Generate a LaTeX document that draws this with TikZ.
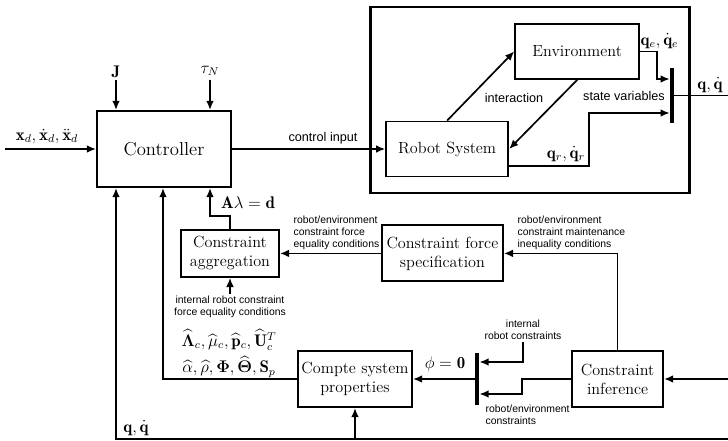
\documentclass[tikz,border=0pt]{standalone}
\usepackage{amsmath,amssymb}
\usepackage{fontspec}
\newfontfamily\labelsf{Liberation Sans}
\usetikzlibrary{arrows.meta}

\begin{document}
\begin{tikzpicture}[
    block/.style={rectangle, draw=black, line width=1.4pt, inner sep=2pt, align=center, font=\fontsize{11.5}{13.5}\selectfont},
    bar/.style={rectangle, fill=black, inner sep=0pt, minimum width=0.1cm},
    note/.style={font=\labelsf\fontsize{7.4}{8.6}\selectfont, align=left, inner sep=1pt},
    tag/.style={font=\labelsf\fontsize{9}{10}\selectfont, inner sep=1pt},
    sig/.style={font=\large, inner sep=1pt},
    arrow/.style={->, line width=1.2pt, >={Latex[length=6.5pt, width=5.5pt]}},
    wire/.style={line width=1.2pt}
]
\useasboundingbox (0,0) rectangle (18.2,11.025);

% Frame round the plant
\node[draw=black, line width=2pt, minimum width=7.975cm, minimum height=4.65cm] (plant) at (13.24,8.525) {};

% Blocks
\node[block, font=\fontsize{13.3}{15}\selectfont, minimum width=3.35cm, minimum height=1.9cm] (ctrl) at (4.1,7.3) {Controller};
\node[block, minimum width=3.1cm, minimum height=1.375cm] (env) at (14.43,9.74) {Environment};
\node[block, minimum width=3.05cm, minimum height=1.375cm] (robot) at (11.18,7.3) {Robot System};
\node[block, minimum width=2.45cm, minimum height=1.175cm] (aggr) at (5.75,4.69) {Constraint\\aggregation};
\node[block, minimum width=3.025cm, minimum height=1.4cm] (spec) at (11.06,4.69) {Constraint force\\specification};
\node[block, minimum width=2.275cm, minimum height=1.4cm] (infer) at (15.44,1.55) {Constraint\\inference};
\node[block, minimum width=2.85cm, minimum height=1.4cm] (comp) at (8.875,1.55) {Compte system\\properties};

% Bars
\node[bar, minimum height=1.375cm] (sv) at (16.8,8.64) {};
\node[bar, minimum height=1.3cm] (cbar) at (11.93,1.55) {};

% Free ends
\coordinate (xin) at (0.125,7.3);
\coordinate (qout) at (18.2,8.64);
\coordinate (fbin) at (18.2,1.55);
\coordinate (fb) at (18.2,0.05);

% Controller inputs
\node[sig] (J) at (2.9,9.225) {$\mathbf{J}$};
\node[sig] (tau) at (5.25,9.25) {$\tau_N$};
\draw[arrow] (J.south) -- (J |- ctrl.north);
\draw[arrow] (tau |- J.south) -- (tau |- ctrl.north);
\node[sig] (xd) at (1.175,7.62) {$\mathbf{x}_d, \dot{\mathbf{x}}_d, \ddot{\mathbf{x}}_d$};
\draw[arrow] (xin) -- (ctrl.west);
\draw[arrow] (ctrl.east) -- (robot.west);
\node[tag] (ci) at (8.075,7.575) {control input};

% Plant
\draw[arrow] (robot.north) -- (env.west);
\draw[arrow] (env.south) -- (robot.east);
\node[tag] (inter) at (12.85,8.575) {interaction};
\node[tag] (state) at (15.6,8.625) {state variables};
\draw[arrow] (env.east) -| ([xshift=-0.325cm, yshift=0.41cm]sv.west) -- ([yshift=0.41cm]sv.west);
\draw[arrow] ([yshift=-0.425cm]robot.east) -| ([xshift=-2.025cm, yshift=-0.44cm]sv.west) -- ([yshift=-0.44cm]sv.west);
\node[sig] (qe) at (16.49,10.0) {$\mathbf{q}_e, \dot{\mathbf{q}}_e$};
\node[sig] (qr) at (14.15,7.175) {$\mathbf{q}_r, \dot{\mathbf{q}}_r$};
\node[sig] (q) at (17.75,8.9) {$\mathbf{q}, \dot{\mathbf{q}}$};
\draw[wire] (sv.east) -- (qout);

% Constraint chain
\draw[arrow] (aggr.north) -- ++(0,0.32) -| ([xshift=1.15cm]ctrl.south);
\node[sig] (Ald) at (6.2,5.95) {$\mathbf{A}\lambda = \mathbf{d}$};
\node[note, align=center] (irc) at (5.75,3.35) {internal robot constraint\\force equality conditions};
\draw[arrow] (irc.north) -- (aggr.south);
\draw[arrow] (spec.west) -- (aggr.east);
\node[note, anchor=west] (rfe) at (7.3,5.2) {robot/environment\\constraint force\\equality conditions};
\draw[arrow] (infer.north) |- (spec.east);
\node[note, anchor=west] (rce) at (12.9,5.2) {robot/environment\\constraint maintenance\\inequality conditions};
\draw[arrow] (fbin) -- (infer.east);

% Constraints into system properties
\draw[arrow] (cbar.west) -- (comp.east);
\node[sig] (phi) at (11.125,1.925) {$\phi = \mathbf{0}$};
\node[note, align=center] (irob) at (13.075,2.775) {internal\\robot constraints};
\draw[arrow] (irob.south) |- ([yshift=0.425cm]cbar.east);
\draw[arrow] (infer.west) -- ++(-1.225,0) |- ([yshift=-0.375cm]cbar.east);
\node[note, anchor=west] (rec) at (12.1,0.65) {robot/environment\\constraints};

% System properties to controller
\draw[arrow] (comp.west) -| ([xshift=-0.025cm]ctrl.south);
\node[sig] (prop1) at (5.725,2.525) {$\widehat{\boldsymbol{\Lambda}}_c, \widehat{\mu}_c, \widehat{\mathbf{p}}_c, \widehat{\mathbf{U}}_c^T$};
\node[sig] (prop2) at (5.725,1.85) {$\widehat{\alpha}, \widehat{\rho}, \boldsymbol{\Phi}, \widehat{\boldsymbol{\Theta}}, \mathbf{S}_p$};

% Feedback
\draw[arrow] (fb) -| ([xshift=-1.2cm]ctrl.south);
\draw[arrow] (comp.south |- fb) -- (comp.south);
\node[sig] (qfb) at (3.4,0.325) {$\mathbf{q}, \dot{\mathbf{q}}$};

\end{tikzpicture}
\end{document}
